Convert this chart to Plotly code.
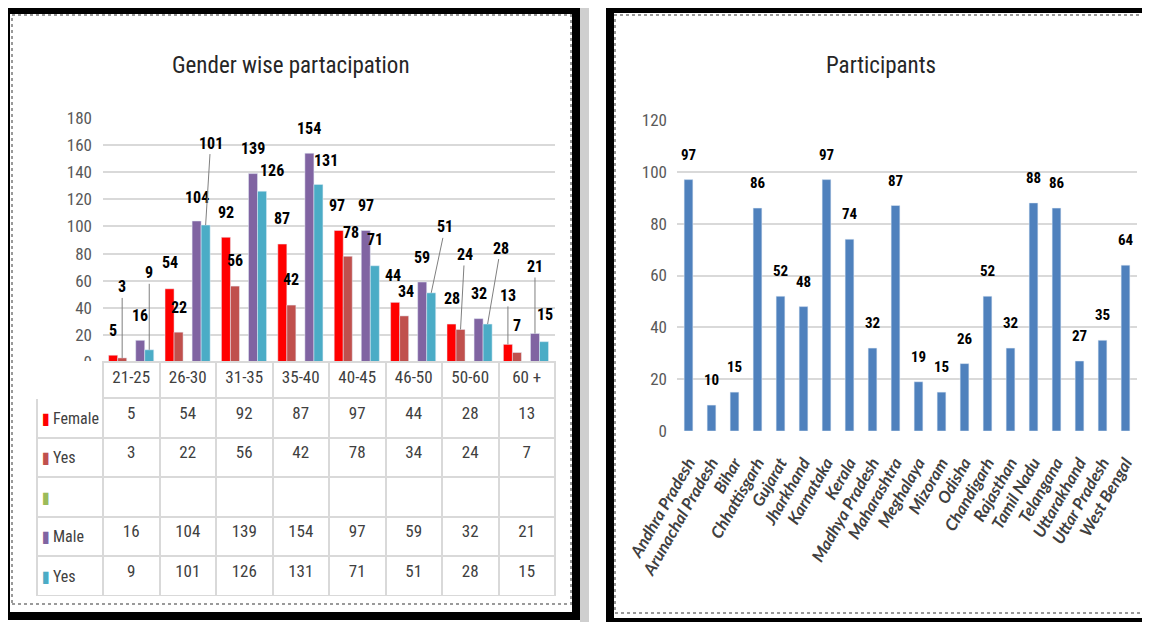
import plotly.graph_objects as go

# ---------------- data ----------------
age_groups = ['21-25', '26-30', '31-35', '35-40', '40-45', '46-50', '50-60', '60 +']
female = [5, 54, 92, 87, 97, 44, 28, 13]
female_yes = [3, 22, 56, 42, 78, 34, 24, 7]
blank_series = [None] * 8
male = [16, 104, 139, 154, 97, 59, 32, 21]
male_yes = [9, 101, 126, 131, 71, 51, 28, 15]
row_names = ['Female', 'Yes', '', 'Male', 'Yes']

states = ['Andhra Pradesh', 'Arunachal Pradesh', 'Bihar', 'Chhattisgarh', 'Gujarat',
          'Jharkhand', 'Karnataka', 'Kerala', 'Madhya Pradesh', 'Maharashtra',
          'Meghalaya', 'Mizoram', 'Odisha', 'Chandigarh', 'Rajasthan', 'Tamil Nadu',
          'Telangana', 'Uttarakhand', 'Uttar Pradesh', 'West Bengal']
participants = [97, 10, 15, 86, 52, 48, 97, 74, 32, 87, 19, 15, 26, 52, 32, 88, 86, 27, 35, 64]

# ---------------- styles ----------------
W, H = 1150, 622
OFF = 8  # the page body adds an 8px margin; positions below are screen pixels
FONT = "Liberation Sans Narrow, Roboto Condensed, DejaVu Sans Condensed, Arial Narrow, sans-serif"
TICK_FONT = "Lato, Liberation Sans, sans-serif"
C_F, C_FY, C_G, C_M, C_MY = '#FF0000', '#C0504D', '#9BBB59', '#8064A2', '#4BACC6'
C_BLUE = '#4F81BD'
GRID = '#D9D9D9'


def px_x(p):
    return (p - OFF) / W


def px_y(p):
    return 1 - (p - OFF) / H


series_vals = [female, female_yes, blank_series, male, male_yes]
series_cols = [C_F, C_FY, C_G, C_M, C_MY]

# placement of Excel's data labels (pixel offsets) and whether a leader line is drawn
label_dy = {
    0: [-25, -26, -25, -26, -25, -27, -26, -49],
    1: [-71, -25, -26, -26, -24, -24, -75, -27],
    3: [-25, -24, -25, -25, -25, -25, -25, -67],
    4: [-77, -82, -21, -24, -26, -66, -76, -27],
}
label_dx = {
    0: [0, 0, 0, 0, -2, -2, 0, 0],
    1: [0, 0, 0, 0, 3, 2, 4, 0],
    3: [0, 0, 0, 0, 0, 0, 0, 0],
    4: [0, 5, 10, 8, 0, 14, 13, 1],
}
leader = {
    0: [0, 0, 0, 0, 0, 0, 0, 1],
    1: [1, 0, 0, 0, 0, 0, 1, 0],
    3: [0, 0, 0, 0, 0, 0, 0, 1],
    4: [1, 1, 0, 0, 0, 1, 1, 0],
}

fig = go.Figure()

for name, vals, col in zip(row_names, series_vals, series_cols):
    fig.add_trace(go.Bar(x=age_groups, y=vals, name=name, marker_color=col,
                         xaxis='x', yaxis='y', showlegend=False, hoverinfo='skip'))

fig.add_trace(go.Bar(x=states, y=participants, marker_color=C_BLUE, xaxis='x2', yaxis='y2',
                     width=0.38, showlegend=False, hoverinfo='skip'))

annotations = []
slot_w = 0.8 / 5
for si, vals in enumerate(series_vals):
    if si not in label_dy:
        continue
    for ci, v in enumerate(vals):
        annotations.append(dict(
            x=ci + (si - 2) * slot_w, y=v, xref='x', yref='y', text=str(v),
            showarrow=True, arrowhead=0, arrowwidth=1, standoff=0, startstandoff=0,
            arrowcolor='#7F7F7F' if leader[si][ci] else 'rgba(0,0,0,0)',
            ax=label_dx[si][ci], ay=label_dy[si][ci],
            font=dict(family=FONT, size=16, color='#000000', weight='bold')))

for s, v in zip(states, participants):
    annotations.append(dict(x=s, y=v, xref='x2', yref='y2', text=str(v), showarrow=False,
                            yanchor='middle', yshift=25,
                            font=dict(family=FONT, size=15, color='#000000', weight='bold')))

annotations.append(dict(x=px_x(291), y=px_y(66), xref='paper', yref='paper',
                        xanchor='center', yanchor='middle',
                        text='Gender wise partacipation', showarrow=False,
                        font=dict(family=FONT, size=23, color='#262626')))
annotations.append(dict(x=px_x(881), y=px_y(66), xref='paper', yref='paper',
                        xanchor='center', yanchor='middle',
                        text='Participants', showarrow=False,
                        font=dict(family=FONT, size=23, color='#262626')))

# row labels with legend keys inside the table's label column
row_centres = [418, 457.5, 497, 536.5, 576]
for name, col, yc in zip(row_names, series_cols, row_centres):
    annotations.append(dict(x=px_x(40), y=px_y(yc), xref='paper', yref='paper',
                            xanchor='left', yanchor='middle', showarrow=False,
                            text=f"<span style='color:{col}'>▮</span>" + ('\u2009' + name if name else ''),
                            font=dict(family=FONT, size=16, color='#404040')))

# data table under the left chart
cols = [[''] * len(row_names)] + [[('' if r[i] is None else str(r[i])) for r in series_vals]
                                  for i in range(len(age_groups))]

fig.add_trace(go.Table(
    domain=dict(x=[px_x(37), px_x(555)], y=[px_y(596), px_y(362)]),
    columnwidth=[66] + [56.5] * 8,
    header=dict(values=[''] + age_groups, height=36,
                fill_color='white',
                line=dict(color=['white'] + [GRID] * 8, width=2),
                align='center',
                font=dict(family=FONT, size=17, color='#404040')),
    cells=dict(values=cols, height=39.5, fill_color='white',
               line=dict(color=GRID, width=2),
               align='center',
               font=dict(family=FONT, size=17, color='#404040'))))

shapes = [
    # page edge strip
    dict(type='rect', xref='paper', yref='paper', x0=px_x(580), x1=px_x(589), y0=px_y(640), y1=px_y(0),
         fillcolor='#CFCFCF', line=dict(width=0), layer='below'),
    # inner dotted borders
    dict(type='rect', xref='paper', yref='paper', x0=px_x(12), x1=px_x(571), y0=px_y(604), y1=px_y(15),
         line=dict(color='#9A9A9A', width=2, dash='dot'), layer='below'),
    dict(type='rect', xref='paper', yref='paper', x0=px_x(615), x1=px_x(1160), y0=px_y(613), y1=px_y(15),
         line=dict(color='#9A9A9A', width=2, dash='dot'), layer='below'),
    # black frames
    dict(type='rect', xref='paper', yref='paper', x0=px_x(6), x1=px_x(576), y0=px_y(616), y1=px_y(10),
         line=dict(color='black', width=8)),
    dict(type='rect', xref='paper', yref='paper', x0=px_x(610), x1=px_x(1165), y0=px_y(622), y1=px_y(9),
         line=dict(color='black', width=8)),
]

fig.update_layout(
    width=W, height=H, margin=dict(l=0, r=0, t=0, b=0, autoexpand=False),
    paper_bgcolor='white', plot_bgcolor='white',
    barmode='group', bargap=0.2, bargroupgap=0,
    font=dict(family=FONT, color='#595959'),
    xaxis=dict(domain=[px_x(103), px_x(555)], showticklabels=False, ticks='', automargin=False,
               showgrid=False, zeroline=False, showline=False, fixedrange=True),
    yaxis=dict(domain=[px_y(362), px_y(118)], range=[0, 180], dtick=20, automargin=False,
               gridcolor=GRID, gridwidth=2, zeroline=False, showline=False,
               tickfont=dict(family=FONT, size=17, color='#595959'),
               ticklabelstandoff=10, fixedrange=True),
    xaxis2=dict(domain=[px_x(677), px_x(1137)], anchor='y2', tickangle=-60, automargin=False,
                tickmode='array', tickvals=states, ticktext=[f'<i>{s}</i>' for s in states],
                tickfont=dict(family=TICK_FONT, size=16.5, color='#404040', weight='bold',
                              style='italic'),
                showgrid=False, zeroline=False, showline=False, ticks='', ticklabelstandoff=18,
                fixedrange=True),
    yaxis2=dict(domain=[px_y(431), px_y(120)], anchor='x2', range=[0, 120], dtick=20,
                automargin=False,
                gridcolor=GRID, gridwidth=2, zeroline=False, showline=False,
                tickfont=dict(family=FONT, size=17, color='#595959'),
                ticklabelstandoff=9, fixedrange=True),
    annotations=annotations, shapes=shapes,
)

fig.write_html("out.html")
